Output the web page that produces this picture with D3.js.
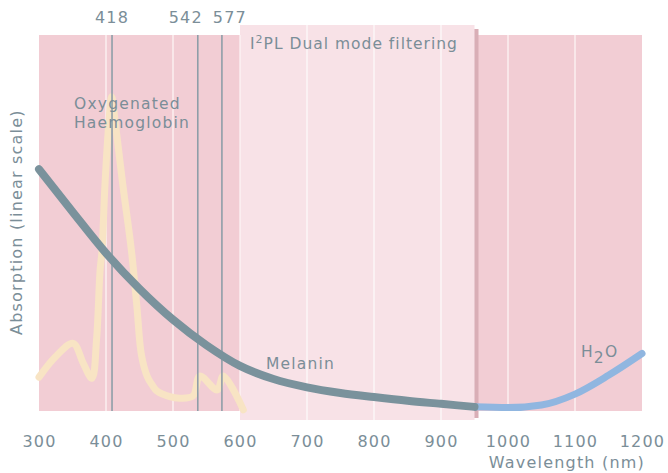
<!DOCTYPE html>
<html>
<head>
<meta charset="utf-8">
<script src="https://cdn.jsdelivr.net/npm/d3@7"></script>
<style>
  body { margin: 0; background: #fff; }
  text { font-family: "DejaVu Sans", sans-serif; fill: #7b8e98; letter-spacing: 1.2px; }
</style>
</head>
<body>
<svg id="chart" width="668" height="473"></svg>
<script>
// wavelength ticks (nm)
var xTicks = [300, 400, 500, 600, 700, 800, 900, 1000, 1100, 1200];
var gridTicks = [400, 500, 600, 700, 800, 900, 1000, 1100];

// absorption peaks of oxygenated haemoglobin
var markerNm = [409, 537, 573];
var markerLabels = ["418", "542", "577"];

// dual mode filtering window
var filterBand = [600, 950];

// melanin absorption (linear, arbitrary units)
var melaninNm = [300, 350, 400, 450, 500, 550, 600, 650, 700, 750, 800, 850, 900, 950];
var melaninAbs = [64.3, 53, 42, 32.5, 24.3, 17.5, 12, 8.5, 6.3, 4.8, 3.7, 2.7, 1.9, 1.1];

// oxygenated haemoglobin
var hbNm = [300, 325, 351, 366, 379, 386, 391, 394, 398.5, 404, 408.5, 413, 425, 438, 446, 453, 462, 469, 476, 495, 510, 530, 540, 566, 575, 605];
var hbAbs = [9.0, 14.5, 18, 12.7, 8.7, 19.3, 37, 42.6, 60.3, 76, 83.6, 78, 60.3, 42.6, 28, 14.8, 9, 6.9, 5.3, 3.8, 3.4, 4.0, 9.3, 5.6, 9.3, 0.3];

// water
var waterNm = [950, 1000, 1050, 1100, 1150, 1200];
var waterAbs = [1.1, 0.9, 1.6, 4.5, 9.5, 15.3];

var margin = {top: 35, right: 26, bottom: 60, left: 39};
var width = 668 - margin.left - margin.right;
var height = 473 - margin.top - margin.bottom - 2;

var x = d3.scaleLinear().domain([300, 1200]).range([0, width]);
var y = d3.scaleLinear().domain([0, 100]).range([height, 0]);

var svg = d3.select("#chart");
var g = svg.append("g")
    .attr("transform", "translate(" + margin.left + "," + margin.top + ")");

// pink plot background
g.append("rect")
    .attr("width", width)
    .attr("height", height)
    .attr("fill", "#f2cdd4");

// gridlines outside the filter window
g.selectAll(".grid")
    .data(gridTicks.filter(function(d) { return d < filterBand[0] || d > filterBand[1]; }))
  .enter().append("line")
    .attr("class", "grid")
    .attr("x1", function(d) { return x(d); })
    .attr("x2", function(d) { return x(d); })
    .attr("y1", 0)
    .attr("y2", height)
    .attr("stroke", "#fbeff1")
    .attr("stroke-width", 1.5);

// filter window with shadow
var bx = x(filterBand[0]), bw = x(filterBand[1]) - x(filterBand[0]);
g.append("rect")
    .attr("x", bx + 4)
    .attr("y", -6)
    .attr("width", bw)
    .attr("height", height + 3 + 10)
    .attr("fill", "#d9aeb6");
g.append("rect")
    .attr("x", bx)
    .attr("y", -10)
    .attr("width", bw)
    .attr("height", height + 9 + 10)
    .attr("fill", "#f8e2e7");

g.selectAll(".gridin")
    .data(gridTicks.filter(function(d) { return d > filterBand[0] && d < filterBand[1]; }))
  .enter().append("line")
    .attr("class", "gridin")
    .attr("x1", function(d) { return x(d); })
    .attr("x2", function(d) { return x(d); })
    .attr("y1", -10)
    .attr("y2", height + 9)
    .attr("stroke", "#fdf6f7")
    .attr("stroke-width", 1.5);
g.append("line")
    .attr("x1", bx).attr("x2", bx)
    .attr("y1", 0).attr("y2", height)
    .attr("stroke", "#fdf6f7")
    .attr("stroke-width", 1.2);

g.append("text")
    .attr("x", bx + 10)
    .attr("y", 14)
    .style("font-size", "15.5px")
    .style("letter-spacing", "1px")
    .html('I<tspan dy="-6" style="font-size:11px">2</tspan><tspan dy="6">PL Dual mode filtering</tspan>');

var line = d3.line()
    .x(function(d) { return x(d[0]); })
    .y(function(d) { return y(d[1]); })
    .curve(d3.curveMonotoneX);

// haemoglobin curve
g.append("path")
    .datum(d3.zip(hbNm, hbAbs))
    .attr("d", line.curve(d3.curveCatmullRom.alpha(0.5)))
    .attr("fill", "none")
    .attr("stroke", "#f8e4c4")
    .attr("stroke-width", 7)
    .attr("stroke-linecap", "round")
    .attr("stroke-linejoin", "round");
line.curve(d3.curveMonotoneX);

// peak markers
g.selectAll(".marker")
    .data(markerNm)
  .enter().append("line")
    .attr("class", "marker")
    .attr("x1", function(d) { return x(d); })
    .attr("x2", function(d) { return x(d); })
    .attr("y1", 0)
    .attr("y2", height)
    .attr("stroke", "#8e9ea8")
    .attr("stroke-width", 1.6);

var labelShift = [0, -12, 8];
g.selectAll(".mlabel")
    .data(markerLabels)
  .enter().append("text")
    .attr("class", "mlabel")
    .attr("x", function(d, i) { return x(markerNm[i]) + labelShift[i]; })
    .attr("y", -12)
    .attr("text-anchor", "middle")
    .style("font-size", "16px")
    .text(function(d) { return d; });

// water curve
g.append("path")
    .datum(d3.zip(waterNm, waterAbs))
    .attr("d", line)
    .attr("fill", "none")
    .attr("stroke", "#90b6e0")
    .attr("stroke-width", 7)
    .attr("stroke-linecap", "round");

// melanin curve
g.append("path")
    .datum(d3.zip(melaninNm, melaninAbs))
    .attr("d", line)
    .attr("fill", "none")
    .attr("stroke", "#7a929c")
    .attr("stroke-width", 8)
    .attr("stroke-linecap", "round");

// curve labels
g.append("text")
    .attr("x", 35)
    .attr("y", 74)
    .style("font-size", "15.5px")
    .text("Oxygenated");
g.append("text")
    .attr("x", 35)
    .attr("y", 93)
    .style("font-size", "15.5px")
    .text("Haemoglobin");
g.append("text")
    .attr("x", 227)
    .attr("y", 334)
    .style("font-size", "15.5px")
    .text("Melanin");
g.append("text")
    .attr("x", 542)
    .attr("y", 322)
    .style("font-size", "15.5px")
    .html('H<tspan dy="6">2</tspan><tspan dy="-6">O</tspan>');

// x axis
var xAxis = g.append("g")
    .attr("transform", "translate(0," + height + ")")
    .call(d3.axisBottom(x).tickValues(xTicks).tickSize(0).tickFormat(d3.format("d")));
xAxis.select(".domain").remove();
xAxis.selectAll("text")
    .attr("y", 36)
    .attr("dy", 0)
    .attr("fill", null)
    .style("font-size", "16px")
    .style("font-family", "DejaVu Sans, sans-serif");

g.append("text")
    .attr("x", width + 3)
    .attr("y", height + 57)
    .attr("text-anchor", "end")
    .style("font-size", "16px")
    .text("Wavelength (nm)");

svg.append("text")
    .attr("transform", "translate(22,335) rotate(-90)")
    .style("font-size", "16px")
    .text("Absorption (linear scale)");
</script>
</body>
</html>
